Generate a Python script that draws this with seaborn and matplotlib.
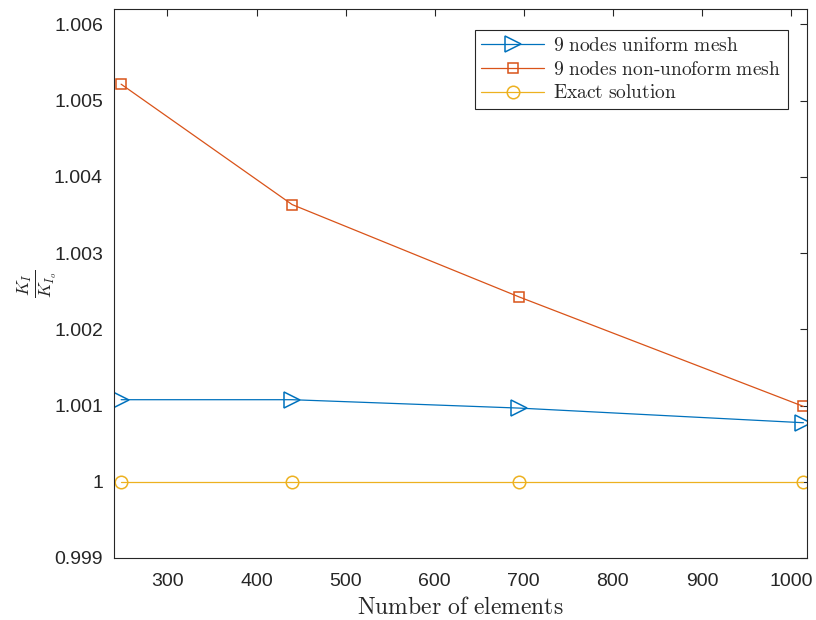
import matplotlib
matplotlib.use("Agg")
import matplotlib.pyplot as plt
import seaborn as sns
import pandas as pd

n_elements = [248, 440, 695, 1014]
uniform = [1.001076, 1.001076, 1.000966, 1.000774]
nonuniform = [1.005214, 1.003635, 1.002423, 1.000988]
exact = [1.0, 1.0, 1.0, 1.0]
series_names = [r"$\mathrm{9\ nodes\ uniform\ mesh}$",
                r"$\mathrm{9\ nodes\ non\text{-}unoform\ mesh}$",
                r"$\mathrm{Exact\ solution}$"]
yticks = [0.999, 1.0, 1.001, 1.002, 1.003, 1.004, 1.005, 1.006]
ytick_labels = ["0.999", "1", "1.001", "1.002", "1.003", "1.004", "1.005", "1.006"]
xticks = [300, 400, 500, 600, 700, 800, 900, 1000]

sns.set_style("white")
plt.rcParams["font.family"] = ["Liberation Sans", "DejaVu Sans"]
plt.rcParams["mathtext.fontset"] = "cm"

fig = plt.figure(figsize=(8.16, 6.2), dpi=100)
ax = fig.add_axes([114/816, 1-558/620, (807-114)/816, (558-9)/620])

colors = ["#0072BD", "#D95319", "#EDB120"]
markers = [">", "s", "o"]
msizes = [11, 7.5, 9]
for vals, name, c, m, ms in zip([uniform, nonuniform, exact], series_names, colors, markers, msizes):
    df = pd.DataFrame({"x": n_elements, "y": vals})
    sns.lineplot(data=df, x="x", y="y", ax=ax, color=c, marker=m, markersize=ms,
                 markerfacecolor="none", markeredgecolor=c, markeredgewidth=1.1,
                 linewidth=0.9, label=name)

ax.set_xlim(240, 1018)
ax.set_ylim(0.999, 1.0062)
ax.set_yticks(yticks)
ax.set_yticklabels(ytick_labels)
ax.set_xticks(xticks)
ax.tick_params(direction="in", top=True, right=True, length=5, width=0.8,
               labelsize=14, colors="#262626")
ax.tick_params(axis="x", pad=11)
ax.tick_params(axis="y", pad=8)
for s in ax.spines.values():
    s.set_color("#262626")
    s.set_linewidth(0.8)
ax.set_xlabel(r"$\mathrm{Number\ of\ elements}$", fontsize=17, color="#262626", labelpad=5)
ax.set_ylabel(r"$\frac{K_I}{K_{I_o}}$", fontsize=18, color="#262626", labelpad=-4)

leg = ax.legend(loc="upper right", bbox_to_anchor=((788-114)/693, 1-(30-9)/549), fontsize=14,
                fancybox=False, edgecolor="#262626", framealpha=1,
                handlelength=3.2, borderpad=0.35, labelspacing=0.3, handletextpad=0.5,
                borderaxespad=0)
leg.get_frame().set_linewidth(0.8)

fig.savefig("out.png", dpi=100)
